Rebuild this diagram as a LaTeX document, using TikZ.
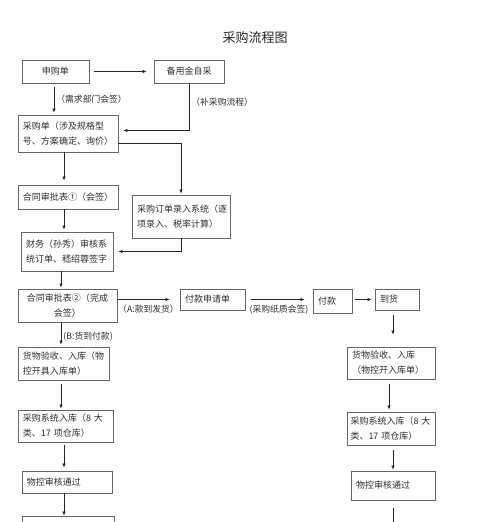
\documentclass[tikz,border=0pt]{standalone}
\usepackage{fontspec}
\newfontfamily\cjk{Noto Sans CJK SC}
\usetikzlibrary{arrows.meta}
\definecolor{boxgray}{HTML}{666666}
\definecolor{textgray}{HTML}{2E2E2E}

\begin{document}
\begin{tikzpicture}[
            x=1pt, y=-1pt,
            >={Latex[length=4pt,width=3.5pt]},
            box/.style={
                draw=boxgray,
                line width=0.8pt,
                rectangle,
                inner xsep=5pt,
                inner ysep=0pt,
                align=left,
                text=textgray,
                font=\cjk\fontsize{9}{15}\selectfont
            },
            note/.style={
                text=textgray,
                inner sep=2pt,
                font=\cjk\fontsize{8.8}{10}\selectfont
            },
            flow/.style={->, draw=black!85, line width=0.7pt}
        ]

            \useasboundingbox (0,0) rectangle (500,522);
            \clip (0,0) rectangle (500,522);
            \fill[white] (0,0) rectangle (500,522);

            \node[font=\cjk\fontsize{13}{15}\selectfont, text=black!85] (title) at (255,38) {采购流程图};

            \node[box, text width=57pt, align=center, minimum height=23pt] (shen) at (55.5,71.5) {申购单};
            \node[box, text width=60pt, align=center, minimum height=23pt] (beiyong) at (189,71.5) {备用金自采};
            \node[box, text width=90pt, minimum height=37pt] (caigou) at (68,133.5) {采购单（涉及规格型\\号、方案确定、询价）};
            \node[box, text width=90pt, minimum height=24pt] (hetong1) at (68,197) {合同审批表①（会签）};
            \node[box, text width=88pt, minimum height=43pt] (luru) at (181,216.5) {采购订单录入系统（逐\\项录入、税率计算）};
            \node[box, text width=82pt, minimum height=39pt] (caiwu) at (67,251.5) {财务（孙秀）审核系\\统订单、嵇绍蓉签字};
            \node[box, text width=89pt, align=center, minimum height=33pt] (hetong2) at (67.5,305.5) {合同审批表②（完成\\会签）};

            \node[box, text width=55pt, minimum height=21pt] (fksq) at (212.5,299.5) {付款申请单};
            \node[box, text width=29pt, minimum height=24pt] (fukuan) at (332.5,301) {付款};
            \node[box, text width=34pt, minimum height=21pt] (daohuo) at (397,299.5) {到货};

            \node[box, text width=81pt, minimum height=33pt] (yanshouL) at (63.5,363.5) {货物验收、入库（物\\控开具入库单）};
            \node[box, text width=85pt, minimum height=32pt] (rukuL) at (65.5,426) {采购系统入库（8 大\\类、17 项仓库）};
            \node[box, text width=80pt, minimum height=22pt] (shenheL) at (67,482) {物控审核通过};
            \node[box, text width=82pt, minimum height=48pt] (nextL) at (68,540) {};

            \node[box, text width=78pt, minimum height=32pt] (yanshouR) at (391,363) {货物验收、入库\\（物控开入库单）};
            \node[box, inner xsep=3.5pt, text width=81pt, minimum height=33pt] (rukuR) at (391,428.5) {采购系统入库（8 大\\类、17 项仓库）};
            \node[box, text width=74pt, minimum height=29pt] (shenheR) at (393,485.5) {物控审核通过};
            \coordinate (endR) at (393,530);

            \draw[flow, shorten <=5pt, shorten >=7pt] (shen) -- (beiyong);
            \draw[flow, shorten <=4pt, shorten >=2pt] ([xshift=-1.5pt]shen.south) -- ([xshift=-1.5pt]shen.south |- caigou.north)
                node[note, midway, right] {（需求部门会签）};
            \draw[flow, shorten >=5pt] (beiyong) |- ([yshift=3pt]caigou.east)
                node[note, pos=0.2, right] {（补采购流程）};

            \draw[flow, shorten >=1pt] ([yshift=-9.5pt]caigou.east) -| (luru);
            \draw[flow, shorten >=4pt] ([xshift=-4pt]caigou.south) -- ([xshift=-4pt]hetong1.north);
            \draw[flow, shorten >=2pt] ([xshift=-4pt]hetong1.south) -- ([xshift=-4pt]hetong1.south |- caiwu.north);
            \draw[flow, shorten >=5pt] (luru) |- (caiwu);
            \draw[flow, shorten >=1pt] ([xshift=-6pt]caiwu.south) -- ([xshift=-6pt]caiwu.south |- hetong2.north);

            \draw[flow, shorten <=1pt, shorten >=10pt] (hetong2.east |- fksq) -- (fksq)
                node[note, midway, below=3pt] {（A:款到发货）};
            \draw[flow, shorten <=6pt, shorten >=8pt] (fksq) -- (fksq -| fukuan.west)
                node[note, midway, below=3pt] {(采购纸质会签)};
            \draw[flow, shorten <=3pt, shorten >=3pt] (fukuan.east |- daohuo) -- (daohuo);

            \draw[flow, shorten <=5pt, shorten >=12pt] ([xshift=-4pt]daohuo.south) -- ([xshift=-4pt]daohuo.south |- yanshouR.north);
            \draw[flow, shorten <=5pt, shorten >=2pt] ([xshift=-2pt]yanshouR.south) -- ([xshift=-2pt]yanshouR.south |- rukuR.north);
            \draw[flow, shorten <=5pt, shorten >=1pt] ([xshift=2pt]rukuR.south) -- ([xshift=2pt]rukuR.south |- shenheR.north);
            \draw[flow, shorten <=8pt] (shenheR) -- (endR);

            \draw[flow, shorten >=2pt] ([xshift=-6.5pt]hetong2.south) -- ([xshift=-6.5pt]hetong2.south |- yanshouL.north)
                node[note, pos=0.6, right] {(B:货到付款)};
            \draw[flow, shorten <=4pt, shorten >=1pt] ([xshift=-2.5pt]yanshouL.south) -- ([xshift=-2.5pt]yanshouL.south |- rukuL.north);
            \draw[flow, shorten <=3pt, shorten >=3pt] ([xshift=-1.5pt]rukuL.south) -- ([xshift=-1.5pt]rukuL.south |- shenheL.north);
            \draw[flow] ([xshift=-3pt]shenheL.south) -- ([xshift=-3pt]shenheL.south |- nextL.north);

        \end{tikzpicture}
\end{document}
